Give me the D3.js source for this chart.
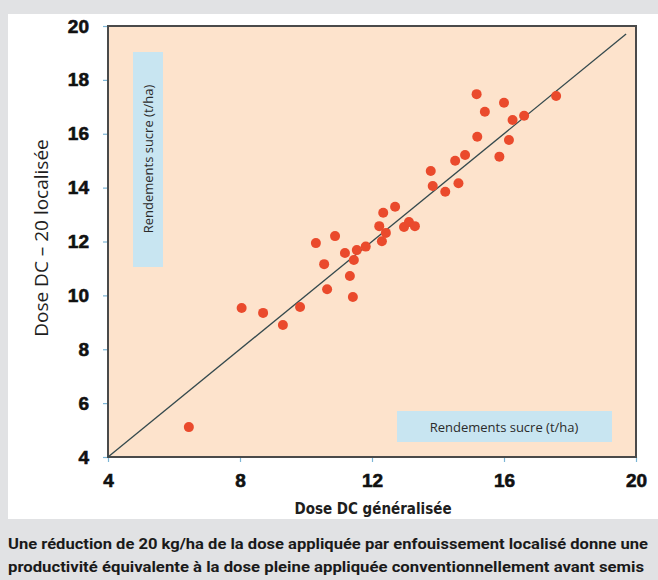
<!DOCTYPE html>
<html>
<head>
<meta charset="utf-8">
<script src="https://cdn.jsdelivr.net/npm/d3@7"></script>
<style>
  body { margin: 0; background: #e1e2e4; }
  svg { display: block; }
</style>
</head>
<body>
<div id="chart"></div>
<script>
// Data
var doseGeneralisee = [6.45, 8.05, 8.70, 9.30, 9.82, 10.30, 10.55, 10.64, 10.88, 11.18, 11.33, 11.42, 11.45,
  11.54, 11.81, 12.34, 12.22, 12.42, 12.30, 12.70, 12.97, 13.12, 13.30, 13.78, 13.84, 14.22, 14.62,
  14.52, 14.82, 15.19, 15.17, 15.42, 15.86, 16.00, 16.15, 16.26, 16.61, 17.58];
var doseLocalisee = [5.11, 9.53, 9.35, 8.90, 9.57, 11.94, 11.16, 10.23, 12.20, 11.57, 10.72, 9.94, 11.31,
  11.68, 11.81, 13.07, 12.57, 12.32, 12.01, 13.29, 12.54, 12.72, 12.57, 14.62, 14.06, 13.85, 14.16,
  15.00, 15.21, 15.89, 17.47, 16.82, 15.15, 17.15, 15.77, 16.51, 16.67, 17.40];
var xTicks = [4, 8, 12, 16, 20];
var yTicks = [4, 6, 8, 10, 12, 14, 16, 18, 20];
var diagonal = [4, 19.7];

var svgWidth = 658;
var svgHeight = 580;

var margin = { top: 26, right: 22, bottom: 123, left: 108 };
var width = 636 - margin.left;
var height = 457 - margin.top;

var svg = d3.select("#chart")
  .append("svg")
  .attr("width", svgWidth)
  .attr("height", svgHeight);

// white panel
svg.append("rect")
  .attr("x", 8).attr("y", 14)
  .attr("width", svgWidth - 8).attr("height", 505)
  .attr("fill", "#ffffff");

var chartGroup = svg.append("g")
  .attr("transform", `translate(${margin.left}, ${margin.top})`);

var xScale = d3.scaleLinear().domain([4, 20]).range([0, width]);
var yScale = d3.scaleLinear().domain([4, 20]).range([height, 0]);

// plot background
chartGroup.append("rect")
  .attr("width", width)
  .attr("height", height)
  .attr("fill", "#fde3cc");

// axes
var bottomAxis = d3.axisBottom(xScale).tickValues(xTicks).tickSize(5).tickPadding(8).tickFormat(d3.format("d"));
var leftAxis = d3.axisLeft(yScale).tickValues(yTicks).tickSize(5).tickPadding(14).tickFormat(d3.format("d"));

var xg = chartGroup.append("g")
  .attr("transform", `translate(0, ${height})`)
  .call(bottomAxis);
var yg = chartGroup.append("g").call(leftAxis);

[xg, yg].forEach(function(g) {
  g.select(".domain").remove();
  g.selectAll(".tick line").attr("stroke", "#7db6d6").attr("stroke-width", 1.2);
  g.selectAll(".tick text")
    .attr("fill", "#111")
    .attr("font-family", "'Liberation Sans', Arial, sans-serif")
    .attr("font-weight", "bold")
    .attr("font-size", 19)
    .attr("stroke", "#111")
    .attr("stroke-width", 0.6);
});
xg.selectAll(".tick text").attr("dy", "0.9em");

// frame
chartGroup.append("rect")
  .attr("width", width)
  .attr("height", height)
  .attr("fill", "none")
  .attr("stroke", "#4a4a4a")
  .attr("stroke-width", 2);

// 1:1 line
chartGroup.append("line")
  .attr("x1", xScale(diagonal[0])).attr("y1", yScale(diagonal[0]))
  .attr("x2", xScale(diagonal[1])).attr("y2", yScale(diagonal[1]))
  .attr("stroke", "#34494d")
  .attr("stroke-width", 1.3);

// points
var points = doseGeneralisee.map(function(d, i) { return { x: d, y: doseLocalisee[i] }; });
chartGroup.selectAll("circle.pt")
  .data(points)
  .enter()
  .append("circle")
  .attr("class", "pt")
  .attr("cx", d => xScale(d.x))
  .attr("cy", d => yScale(d.y))
  .attr("r", 5)
  .attr("fill", "#ea4a2c");

// blue label boxes
chartGroup.append("rect")
  .attr("x", 25).attr("y", 26)
  .attr("width", 30).attr("height", 215)
  .attr("fill", "#c8e5f1");
chartGroup.append("text")
  .attr("transform", `translate(${25 + 15}, ${26 + 107}) rotate(-90)`)
  .attr("text-anchor", "middle")
  .attr("dy", "0.35em")
  .attr("fill", "#2b2b2b")
  .style("font-family", "'Open Sans', sans-serif")
  .style("font-size", "13px")
  .text("Rendements sucre (t/ha)");

chartGroup.append("rect")
  .attr("x", 289).attr("y", 385)
  .attr("width", 215).attr("height", 31)
  .attr("fill", "#c8e5f1");
chartGroup.append("text")
  .attr("x", 289 + 107).attr("y", 385 + 16)
  .attr("text-anchor", "middle")
  .attr("dy", "0.35em")
  .attr("fill", "#2b2b2b")
  .style("font-family", "'Open Sans', sans-serif")
  .style("font-size", "13px")
  .text("Rendements sucre (t/ha)");

// axis titles
svg.append("text")
  .attr("transform", "translate(41, 238) rotate(-90)")
  .attr("text-anchor", "middle")
  .attr("dy", "0.35em")
  .attr("fill", "#1e1e1e")
  .style("font-family", "'Open Sans', sans-serif")
  .style("font-size", "19px")
  .text("Dose DC \u2013 20 localisée");

svg.append("text")
  .attr("x", 373).attr("y", 514)
  .attr("text-anchor", "middle")
  .attr("fill", "#1e1e1e")
  .style("font-family", "'DejaVu Sans Condensed', 'DejaVu Sans', sans-serif")
  .style("font-stretch", "condensed")
  .style("font-weight", "bold")
  .style("font-size", "15px")
  .text("Dose DC généralisée");

// caption
var caption = [
  "Une réduction de 20 kg/ha de la dose appliquée par enfouissement localisé donne une",
  "productivité équivalente à la dose pleine appliquée conventionnellement avant semis"
];
svg.selectAll("text.caption")
  .data(caption)
  .enter()
  .append("text")
  .attr("class", "caption")
  .attr("x", 8)
  .attr("y", (d, i) => 549 + i * 23)
  .attr("fill", "#1a1a1a")
  .style("font-family", "Roboto, sans-serif")
  .style("font-weight", "bold")
  .style("font-size", "14px")
  .attr("textLength", (d, i) => i === 0 ? 640 : 636)
  .attr("lengthAdjust", "spacingAndGlyphs")
  .text(d => d);
</script>
</body>
</html>
